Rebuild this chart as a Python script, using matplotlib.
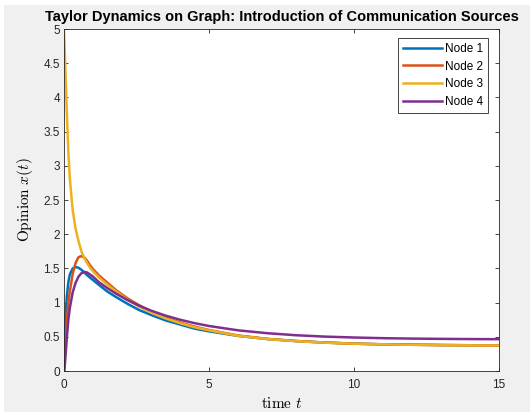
import matplotlib
matplotlib.use('Agg')
import matplotlib.pyplot as plt
from matplotlib.patches import Rectangle

# values
t = [0, 0.02, 0.05, 0.1, 0.15, 0.2, 0.3, 0.4, 0.5, 0.6, 0.7, 0.8, 0.9, 1.0, 1.2, 1.5,
     1.8, 2.2, 2.6, 3.0, 3.5, 4.0, 4.5, 5.0, 6.0, 7.0, 8.0, 9.0, 10.0, 11.0, 12.0,
     13.0, 14.0, 15.0]

node1 = [0, 0.45, 0.80, 1.10, 1.30, 1.41, 1.50, 1.52, 1.51, 1.48, 1.44, 1.40, 1.365,
         1.33, 1.26, 1.16, 1.08, 0.98, 0.89, 0.82, 0.74, 0.68, 0.62, 0.58, 0.513,
         0.468, 0.437, 0.416, 0.40, 0.39, 0.385, 0.38, 0.377, 0.374]
node2 = [0, 0.15, 0.40, 0.75, 1.00, 1.16, 1.42, 1.58, 1.665, 1.68, 1.66, 1.61, 1.545,
         1.49, 1.40, 1.29, 1.18, 1.06, 0.96, 0.87, 0.78, 0.71, 0.65, 0.60, 0.52,
         0.47, 0.44, 0.416, 0.40, 0.391, 0.384, 0.379, 0.376, 0.374]
node3 = [5.0, 4.75, 4.38, 3.75, 3.20, 2.82, 2.35, 2.08, 1.90, 1.75, 1.65, 1.575, 1.51,
         1.46, 1.37, 1.26, 1.16, 1.04, 0.94, 0.855, 0.77, 0.70, 0.64, 0.595, 0.515,
         0.468, 0.437, 0.414, 0.399, 0.39, 0.383, 0.378, 0.375, 0.373]
node4 = [0, 0.05, 0.20, 0.50, 0.75, 0.92, 1.15, 1.29, 1.38, 1.43, 1.45, 1.44, 1.41,
         1.38, 1.30, 1.21, 1.13, 1.035, 0.953, 0.883, 0.81, 0.75, 0.70, 0.658, 0.595,
         0.553, 0.523, 0.503, 0.49, 0.48, 0.474, 0.47, 0.467, 0.465]

series = [node1, node2, node3, node4]
labels = ['Node 1', 'Node 2', 'Node 3', 'Node 4']
colors = ['#0072BD', '#D95319', '#EDB120', '#7E2F8E']

plt.rcParams['font.family'] = ['Liberation Sans', 'DejaVu Sans']
plt.rcParams['mathtext.fontset'] = 'cm'

fig = plt.figure(figsize=(5.32, 4.15), dpi=100, facecolor='white')
# grey matlab window area
fig.patches.append(Rectangle((0.0075, 0.0072), 0.989, 0.981, transform=fig.transFigure,
                             facecolor='#f0f0f0', edgecolor='none', zorder=-10))

ax = fig.add_axes([0.1203, 0.106, 0.8177, 0.824])
for y, lab, c in zip(series, labels, colors):
    ax.plot(t, y, color=c, lw=1.8, label=lab)

ax.set_xlim(0, 15)
ax.set_ylim(0, 5)
ax.set_xticks([0, 5, 10, 15])
ax.set_yticks([0, 0.5, 1, 1.5, 2, 2.5, 3, 3.5, 4, 4.5, 5])
ax.set_yticklabels(['0', '0.5', '1', '1.5', '2', '2.5', '3', '3.5', '4', '4.5', '5'])
ax.tick_params(direction='in', top=True, right=True, length=3, width=0.6,
               colors='#262626', labelsize=8.5)
ax.tick_params(axis='x', pad=6)
ax.tick_params(axis='y', pad=3)
for sp in ax.spines.values():
    sp.set_color('#262626')
    sp.set_linewidth(0.6)

ax.set_title('Taylor Dynamics on Graph: Introduction of Communication Sources',
             fontsize=10.5, fontweight='bold', pad=5.5)
ax.set_xlabel(r'$\mathrm{time}\ t$', fontsize=11, labelpad=3)
ax.set_ylabel(r'$\mathrm{Opinion}\ x(t)$', fontsize=11, labelpad=6)

leg = ax.legend(loc='upper right', fontsize=8.5, handlelength=3.3, handletextpad=0.3,
                labelspacing=0.5, borderpad=0.4, borderaxespad=0, fancybox=False,
                framealpha=1, bbox_to_anchor=(0.9747, 0.974))
leg.get_frame().set_edgecolor('#262626')
leg.get_frame().set_linewidth(0.6)

fig.savefig('out.png', dpi=100, facecolor=fig.get_facecolor())
